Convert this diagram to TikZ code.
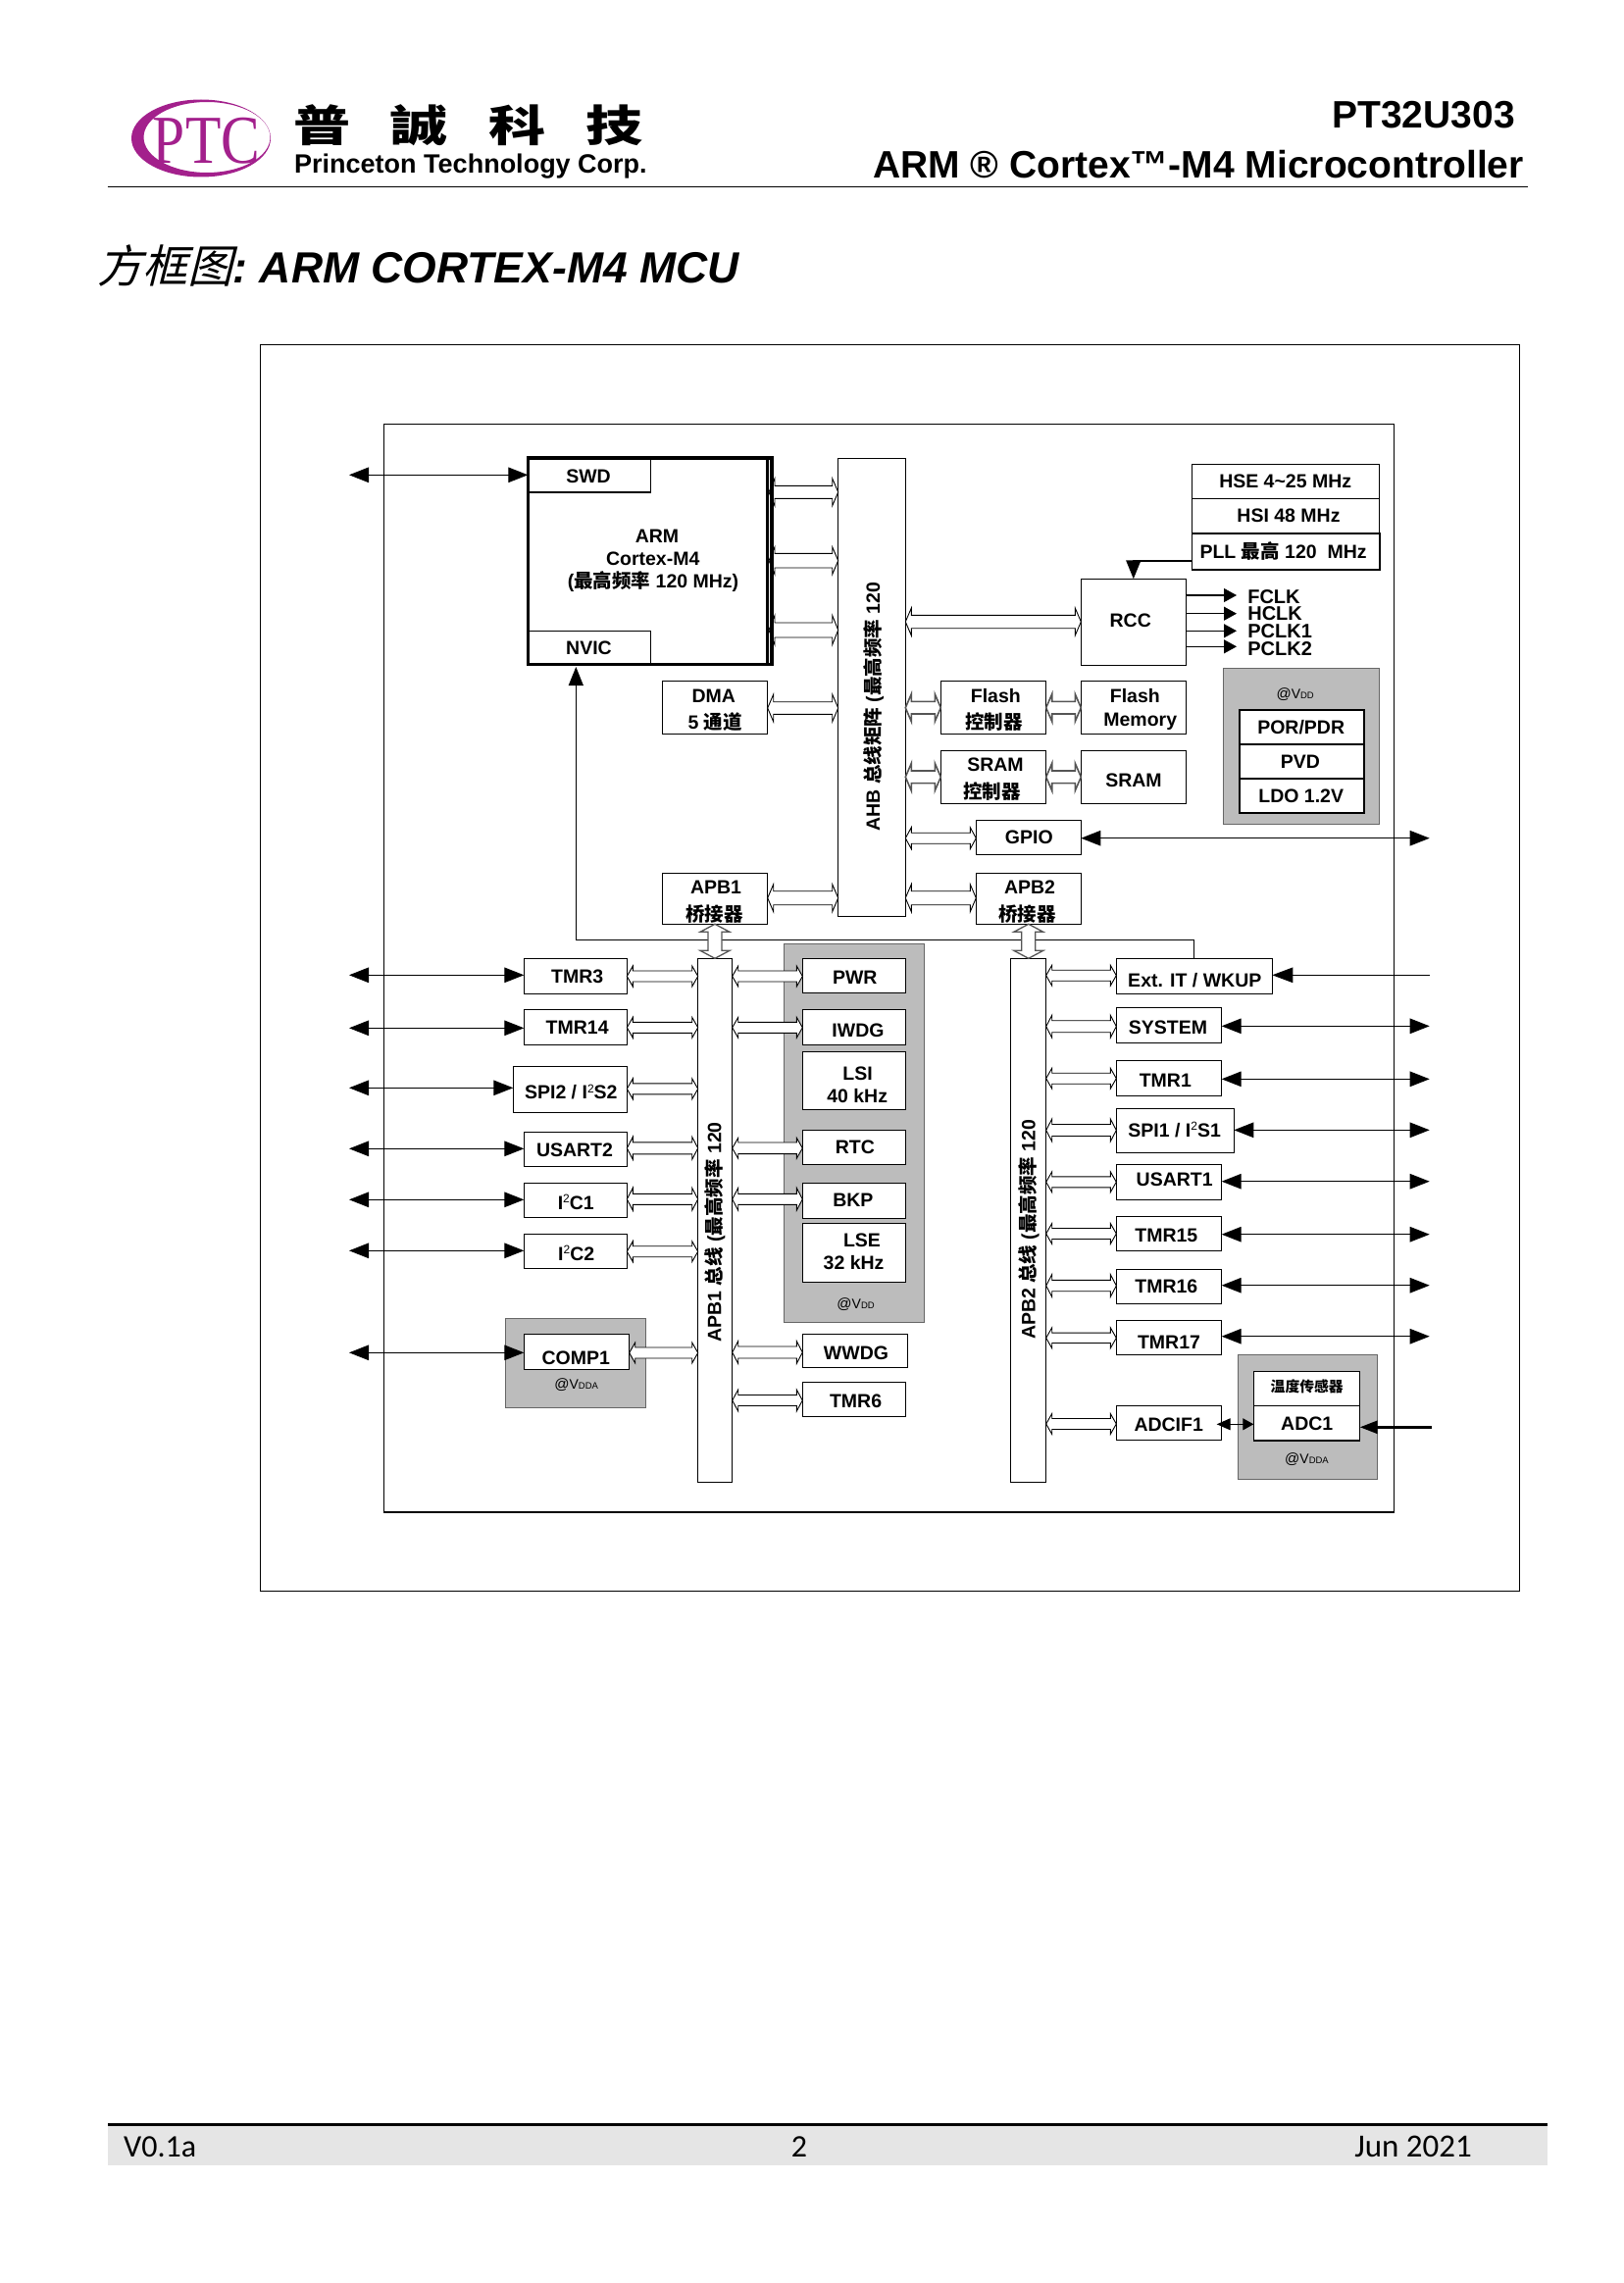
\documentclass[tikz,border=0pt]{standalone}
\usepackage{fontspec}
\setmainfont{Liberation Sans}
\newfontfamily\cjk{Noto Sans CJK SC}
\newfontfamily\cjktc{Noto Sans CJK TC}[FakeStretch=1.32]
\newfontfamily\cjkslant{Noto Sans CJK SC}[FakeSlant=0.25]
\newfontfamily\foot{Carlito}
\newfontfamily\logoserif{Liberation Serif}[FakeStretch=0.85]
\usetikzlibrary{arrows.meta,calc}
\definecolor{panel}{HTML}{BCBCBC}
\definecolor{ptc}{HTML}{A3208C}
\definecolor{footgray}{HTML}{E5E5E5}
\definecolor{darkbus}{HTML}{555555}
\newcommand\zh[1]{{\cjk\bfseries #1}}
\newcommand\supt{\raisebox{6.5pt}{\fontsize{12}{12}\selectfont\mdseries 2}}
\newcommand\vsup[1]{@{\fontsize{14}{14}\selectfont V}{\fontsize{9.5}{9.5}\selectfont #1}}
\tikzset{
  x=1pt,y=-1pt,
  box/.style={draw=black,fill=white,line width=1.1pt,inner sep=0pt,outer sep=0pt},
  panelbox/.style={draw=black!60,fill=panel,line width=1pt,inner sep=0pt,outer sep=0pt},
  frame/.style={draw=black,line width=1.1pt,inner sep=0pt,outer sep=0pt},
  tx/.style={inner sep=0pt,outer sep=0pt,font=\fontsize{19.5}{19.5}\selectfont\bfseries},
  vdd/.style={inner sep=0pt,outer sep=0pt,font=\fontsize{15}{15}\selectfont,text=black},
  clk/.style={tx,anchor=west,font=\fontsize{20}{20}\selectfont\bfseries},
  bus/.style={draw=black,fill=white,line width=.9pt,line join=miter},
  busdark/.style={draw=darkbus,fill=white,line width=1.6pt,line join=miter},
  bibus/.style={line width=1.1pt,{Triangle[length=20pt,width=15.5pt]}-{Triangle[length=20pt,width=15.5pt]}},
  inarrow/.style={line width=1.1pt,-{Triangle[length=19pt,width=15pt]}},
}
\newcommand\mybox[6][box]{%
  \pgfmathsetmacro\bw{#5-#3}\pgfmathsetmacro\bh{#6-#4}%
  \pgfmathsetmacro\bcx{(#5+#3)/2}\pgfmathsetmacro\bcy{(#6+#4)/2}%
  \node[#1,minimum width=\bw pt,minimum height=\bh pt] (#2) at (\bcx,\bcy) {};}
\newcommand\mytext[5][tx]{\node[#1] (#2) at (#3,#4) {#5};}
% horizontal hollow double arrow: style, left, right, y, shaft half, head half
\newcommand\hbus[6][bus]{%
  \path[#1] let \p1=(#2 |- 0,#4), \p2=(#3 |- 0,#4) in
  (\x1,\y1) -- (\x1+6pt,\y1+#6pt) -- (\x1+6pt,\y1+#5pt) -- (\x2-6pt,\y1+#5pt)
  -- (\x2-6pt,\y1+#6pt) -- (\x2,\y1) -- (\x2-6pt,\y1-#6pt) -- (\x2-6pt,\y1-#5pt)
  -- (\x1+6pt,\y1-#5pt) -- (\x1+6pt,\y1-#6pt) -- cycle;}
% vertical hollow double arrow: top node anchor, bottom node anchor
\newcommand\vbus[2]{%
  \path[busdark,line width=1.3pt] let \p1=(#1), \p2=(#2) in
  (\x1,\y1) -- (\x1+15pt,\y1-8pt) -- (\x1+7pt,\y1-8pt) -- (\x1+7pt,\y2+8pt)
  -- (\x1+15pt,\y2+8pt) -- (\x1,\y2) -- (\x1-15pt,\y2+8pt) -- (\x1-7pt,\y2+8pt)
  -- (\x1-7pt,\y1-8pt) -- (\x1-15pt,\y1-8pt) -- cycle;}
\newcommand\extW[2]{\coordinate (#1ext) at (356,#2);\draw[bibus] (#1ext) -- (#1.west |- #1ext);}
\newcommand\extE[2]{\coordinate (#1ext) at (1457.7,#2);\draw[bibus] (#1.east |- #1ext) -- (#1ext);}
\begin{document}
\begin{tikzpicture}
\useasboundingbox[fill=white] (0,0) rectangle (1655,2328);
% ---- header
\path[fill=ptc,even odd rule] (205,141) ellipse [x radius=71,y radius=39.5]
  (211,140) ellipse [x radius=64.5,y radius=36];
\node[inner sep=0pt,text=ptc,font=\fontsize{70}{70}\selectfont\logoserif] (logoptc) at (210.5,143.5) {PTC};
\node[inner sep=0pt,font=\fontsize{44}{44}\selectfont\cjktc\bfseries] (cname) at (477.6,128) {普\hspace{41pt}誠\hspace{41pt}科\hspace{41pt}技};
\node[inner sep=0pt,anchor=west,font=\fontsize{27}{27}\selectfont\bfseries] (ename) at (300,170) {Princeton Technology Corp.};
\node[inner sep=0pt,anchor=east,font=\fontsize{39}{39}\selectfont\bfseries] (partno) at (1545,117.5) {PT32U303};
\node[inner sep=0pt,anchor=east,font=\fontsize{39}{39}\selectfont\bfseries] (prod) at (1554,168) {ARM ® Cortex™-M4 Microcontroller};
\coordinate (hruleL) at (109.5,190.5);\coordinate (hruleR) at (1558,190.5);
\draw[line width=1.6pt] (hruleL) -- (hruleR);
\node[inner sep=0pt,anchor=west,font=\fontsize{44.5}{44.5}\selectfont] (title) at (99,271) {{\fontsize{46}{46}\selectfont\cjkslant 方框图}\textbf{\textit{:\hspace{-3.5pt} ARM CORTEX-M4 MCU}}};
% ---- footer
\path[fill=footgray] (110,2168) rectangle (1578,2208);
\coordinate (fruleL) at (110,2166.5);\coordinate (fruleR) at (1578,2166.5);
\draw[line width=3pt] (fruleL) -- (fruleR);
\node[inner sep=0pt,anchor=west,font=\fontsize{32}{32}\selectfont\foot] (fver) at (126,2189) {V0.1a};
\node[inner sep=0pt,font=\fontsize{32}{32}\selectfont\foot] (fpage) at (815,2189) {2};
\node[inner sep=0pt,anchor=east,font=\fontsize{33}{33}\selectfont\foot] (fdate) at (1501,2189) {Jun 2021};
% ---- frames
\draw[frame] (265.7,351.8) rectangle (1549.7,1622.5);
\draw[frame] (391.3,432.3) rectangle (1421.3,1542);
% ---- panels
\mybox[panelbox]{pwrpanel}{1247.3}{681.7}{1406.9}{840.7}
\mybox[panelbox]{lowpanel}{799.7}{962.3}{942.6}{1348.3}
\mybox[panelbox]{comppanel}{515.7}{1344.7}{658.3}{1435.3}
\mybox[panelbox]{adcpanel}{1262.7}{1381.3}{1404.7}{1508.4}
% ---- core
\mybox{ahb}{854.7}{467.3}{923.3}{934.3}
\coordinate (armout) at (784,500);
\hbus{armout}{ahb.west}{501.8}{6.5}{14}
\hbus{armout}{ahb.west}{571.7}{7.3}{14}
\hbus{armout}{ahb.west}{642.5}{7.5}{15}
\mybox[box,fill=none,line width=3.3pt]{arm}{538.3}{467}{787}{677.7}
\coordinate (armdivT) at (782.7,467);\coordinate (armdivB) at (782.7,677.7);
\draw[line width=2.6pt] (armdivT) -- (armdivB);
\mybox[box,fill=none,line width=1.5pt]{swd}{538.3}{467}{663.3}{502}
\mybox[box,fill=none]{nvic}{538.3}{643.3}{663.3}{677.7}
\mytext{swdt}{600}{485.7}{SWD}
\mytext{nvict}{600.5}{661}{NVIC}
\mytext{armt}{670}{546.7}{ARM}
\mytext{armtb}{665.7}{569.3}{Cortex-M4}
\mytext{armtc}{666}{593.3}{(\zh{最高频率} 120 MHz)}
\mybox{dma}{675.3}{694.3}{782.7}{748.7}
\mytext{dmat}{727.7}{709.3}{DMA}
\mytext{dmatb}{729.3}{736}{5 \zh{通道}}
\mybox{apbonebr}{675.3}{890.3}{782.7}{942.3}
\mytext{apbonebrt}{730}{905}{APB1}
\mytext{apbonebrtb}{728.3}{931.7}{\zh{桥接器}}
\hbus{dma.east}{ahb.west}{722}{6.3}{14}
\hbus{apbonebr.east}{ahb.west}{915.7}{7}{14}
\mytext[tx,rotate=90]{ahbt}{890.7}{720.5}{AHB \zh{总线矩阵} (\zh{最高频率} 120}
% clock group
\mybox{hse}{1215.3}{473.3}{1406.9}{508.3}
\mybox{hsi}{1215.3}{508.3}{1406.9}{544}
\mybox[box,line width=1.6pt]{pll}{1215.3}{544}{1406.9}{581}
\mytext{hset}{1310.7}{490.7}{HSE 4\~{}25 MHz}
\mytext{hsit}{1314}{525.7}{HSI 48 MHz}
\mytext{pllt}{1308.6}{562.3}{PLL \zh{最高} 120 \ MHz}
\mybox{rcc}{1102.3}{590.3}{1209.3}{678.3}
\mytext{rcct}{1152.7}{632.7}{RCC}
\coordinate (pllout) at (1215.3,571.7);
\draw[inarrow,line width=1.8pt] (pll.west |- pllout) -| (rcc.north);
\hbus{ahb.east}{rcc.west}{634}{6.7}{14}
\foreach \nm/\yy/\tyy/\lab in {fclk/607/609/FCLK,hclk/625.7/626/HCLK,pclka/643.3/644/PCLK1,pclkb/659.3/661.3/PCLK2}{
  \coordinate (\nm end) at (1261,\yy);
  \draw[inarrow,-{Triangle[length=13pt,width=14pt]}] (rcc.east |- \nm end) -- (\nm end);
  \node[clk] (\nm) at (1272.3,\tyy) {\lab};
}
\mybox{flashc}{959.3}{694.3}{1066.7}{748.7}
\mybox{flashm}{1102.3}{694.3}{1209.3}{748.7}
\mybox{sramc}{959.3}{765.3}{1066.7}{819.3}
\mybox{sramm}{1102.3}{765.3}{1209.3}{819.3}
\mybox{gpio}{995.3}{836.3}{1102.3}{871.3}
\mybox{apbtwobr}{995.3}{890.3}{1102.3}{942.3}
\mytext{flashct}{1015.3}{709.3}{Flash}
\mytext{flashctb}{1013.3}{736}{\zh{控制器}}
\mytext{flashmt}{1157.3}{709.3}{Flash}
\mytext{flashmtb}{1162.7}{736}{Memory}
\mytext{sramct}{1015}{780}{SRAM}
\mytext{sramctb}{1011.7}{806.7}{\zh{控制器}}
\mytext{srammt}{1156}{795.7}{SRAM}
\mytext{gpiot}{1049.3}{854}{GPIO}
\mytext{apbtwobrt}{1050}{905}{APB2}
\mytext{apbtwobrtb}{1047.7}{931.7}{\zh{桥接器}}
\hbus[busdark]{ahb.east}{flashc.west}{721.7}{6.3}{14}
\hbus[busdark]{flashc.east}{flashm.west}{721.7}{6.3}{14}
\hbus[busdark]{ahb.east}{sramc.west}{792.3}{6.3}{14}
\hbus[busdark]{sramc.east}{sramm.west}{792.3}{6.3}{14}
\hbus{ahb.east}{gpio.west}{854.7}{5.5}{11}
\hbus{ahb.east}{apbtwobr.west}{915.7}{7}{14}
\extE{gpio}{854.7}
% power stack
\mytext[vdd]{pwrvdd}{1320.7}{707.7}{\vsup{DD}}
\mybox[box,line width=1.8pt]{por}{1264}{724}{1391}{759}
\mybox[box,line width=1.8pt]{pvd}{1264}{759}{1391}{794.3}
\mybox[box,line width=1.8pt]{ldo}{1264}{794.3}{1391}{829}
\mytext{port}{1326.7}{741.3}{POR/PDR}
\mytext{pvdt}{1326}{776.7}{PVD}
\mytext{ldot}{1326.7}{811.7}{LDO 1.2V}
% ---- APB1
\mybox{apbone}{711.7}{977.3}{746.7}{1511.5}
\mybox{apbtwo}{1030.7}{977.3}{1066.7}{1511.5}
\mytext[tx,rotate=90]{apbonet}{729}{1256.3}{APB1 \zh{总线} (\zh{最高频率} 120}
\mytext[tx,rotate=90]{apbtwot}{1049.3}{1253.8}{APB2 \zh{总线} (\zh{最高频率} 120}
% interrupt line
\coordinate (nvicin) at (587.3,680);
\mybox{exti}{1138.3}{977.3}{1297.3}{1013.3}
\coordinate (irqbendR) at (1217.8,958.3);\coordinate (irqbendL) at (587.3,958.3);
\draw[inarrow] (exti.north) -- (irqbendR) -- (irqbendL) -- (nvicin);
\vbus{apbonebr.south}{apbone.north}
\vbus{apbtwobr.south}{apbtwo.north}
% left peripherals
\mybox{tmrc}{534.3}{977.3}{639.3}{1013.3}
\mybox{tmrn}{534.3}{1029.3}{639.3}{1065.3}
\mybox{spib}{523.3}{1087.3}{639.3}{1134.3}
\mybox{usartb}{534.3}{1154.3}{639.3}{1189.3}
\mybox{ica}{534.3}{1206.3}{639.3}{1241.3}
\mybox{icb}{534.3}{1258.3}{639.3}{1293.3}
\mybox{comp}{534.3}{1360.7}{641.7}{1396.3}
\mytext{tmrct}{588.7}{996}{TMR3}
\mytext{tmrnt}{588.7}{1047.3}{TMR14}
\mytext{spibt}{582.3}{1113.7}{SPI2 / I\supt S2}
\mytext{usartbt}{586}{1172.7}{USART2}
\mytext{icat}{587.3}{1226}{I\supt C1}
\mytext{icbt}{587.7}{1278}{I\supt C2}
\mytext{compt}{587.3}{1385}{COMP1}
\mytext[vdd]{compvdd}{587.7}{1412.3}{\vsup{DDA}}
\extW{swd}{484.3}
\extW{tmrc}{994.3}
\extW{tmrn}{1048.3}
\extW{spib}{1109.3}
\extW{usartb}{1171.3}
\extW{ica}{1223.3}
\extW{icb}{1275.3}
\extW{comp}{1379.3}
\hbus{tmrc.east}{apbone.west}{995.5}{5.5}{10.5}
\hbus{tmrn.east}{apbone.west}{1047.8}{5.5}{10.5}
\hbus{spib.east}{apbone.west}{1110.3}{5.5}{10.5}
\hbus{usartb.east}{apbone.west}{1170.8}{6}{11.5}
\hbus{ica.east}{apbone.west}{1222.8}{5.5}{11.5}
\hbus{icb.east}{apbone.west}{1276.2}{5.5}{10.5}
\hbus{comp.east}{apbone.west}{1379.5}{5.5}{10.5}
% centre column
\mybox{pwr}{818.3}{977.3}{923.6}{1012.3}
\mybox{iwdg}{818.3}{1029.3}{923.6}{1065.3}
\mybox{lsi}{818.3}{1072.3}{923.6}{1131.7}
\mybox{rtc}{818.3}{1152.3}{923.6}{1187.3}
\mybox{bkp}{818.3}{1206.3}{923.6}{1242.3}
\mybox{lse}{818.3}{1247.3}{923.6}{1307.3}
\mybox{wwdg}{818.3}{1360.7}{925.6}{1394.3}
\mybox{tmrs}{818.3}{1409.3}{923.6}{1444.3}
\mytext{pwrt}{871.8}{997.1}{PWR}
\mytext{iwdgt}{875}{1051}{IWDG}
\mytext{lsit}{874.6}{1095}{LSI}
\mytext{lsitb}{874.2}{1118}{40 kHz}
\mytext{rtct}{871.8}{1169.7}{RTC}
\mytext{bkpt}{869.9}{1223.3}{BKP}
\mytext{lset}{879}{1265}{LSE}
\mytext{lsetb}{870.6}{1287.2}{32 kHz}
\mytext{wwdgt}{873}{1379.8}{WWDG}
\mytext{tmrst}{872.6}{1428.8}{TMR6}
\mytext[vdd]{lowvdd}{872.6}{1330.5}{\vsup{DD}}
\hbus{apbone.east}{pwr.west}{995.5}{5.5}{10.5}
\hbus{apbone.east}{iwdg.west}{1047.8}{5.5}{10.5}
\hbus{apbone.east}{rtc.west}{1170.8}{5.8}{10.5}
\hbus{apbone.east}{bkp.west}{1222.8}{5.5}{11.5}
\hbus{apbone.east}{wwdg.west}{1379}{6}{11.5}
\hbus{apbone.east}{tmrs.west}{1428}{5.5}{11}
% right peripherals
\mybox{sys}{1138.3}{1027.3}{1245.7}{1063.3}
\mybox{tmra}{1138.3}{1081.3}{1245.7}{1117.3}
\mybox{spia}{1138.3}{1130.3}{1258.3}{1175.3}
\mybox{usarta}{1138.3}{1187.3}{1245.7}{1223.3}
\mybox{tmro}{1138.3}{1240.3}{1245.7}{1275.3}
\mybox{tmrp}{1138.3}{1294.3}{1245.7}{1329.3}
\mybox{tmrq}{1138.3}{1346.3}{1245.7}{1381.3}
\mybox{adcif}{1138.3}{1433.3}{1245.7}{1468.3}
\mybox{temp}{1278.3}{1398.3}{1386.7}{1433.3}
\mybox{adc}{1278.3}{1433.3}{1386.7}{1469}
\mytext{extit}{1218.3}{999.3}{Ext. IT / WKUP}
\mytext{syst}{1191}{1048}{SYSTEM}
\mytext{tmrat}{1188.3}{1102}{TMR1}
\mytext{spiat}{1197.7}{1152}{SPI1 / I\supt S1}
\mytext{usartat}{1197.7}{1202.7}{USART1}
\mytext{tmrot}{1189.3}{1260}{TMR15}
\mytext{tmrpt}{1189.3}{1312}{TMR16}
\mytext{tmrqt}{1192}{1369}{TMR17}
\mytext{adcift}{1191.7}{1452.7}{ADCIF1}
\mytext[tx,font=\fontsize{14.8}{14.8}\selectfont\bfseries]{tempt}{1332.7}{1414}{\zh{温度传感器}}
\mytext{adct}{1332.7}{1452}{ADC1}
\mytext[vdd]{adcvdd}{1332.5}{1488}{\vsup{DDA}}
\hbus{apbtwo.east}{exti.west}{994.7}{5.5}{10.5}
\hbus{apbtwo.east}{sys.west}{1046.7}{6}{11.5}
\hbus{apbtwo.east}{tmra.west}{1099.7}{5.5}{10.5}
\hbus{apbtwo.east}{spia.west}{1152.5}{6}{11.5}
\hbus{apbtwo.east}{usarta.west}{1205.3}{5.5}{10.5}
\hbus{apbtwo.east}{tmro.west}{1258}{5.5}{10.5}
\hbus{apbtwo.east}{tmrp.west}{1311}{5.7}{11.5}
\hbus{apbtwo.east}{tmrq.west}{1364.3}{5.2}{10.5}
\hbus{apbtwo.east}{adcif.west}{1452}{5.5}{10.5}
\coordinate (extiext) at (1457.7,994.3);
\draw[inarrow,-{Triangle[length=21pt,width=15.5pt]}] (extiext) -- (exti.east |- extiext);
\extE{sys}{1046.3}
\extE{tmra}{1100.3}
\extE{spia}{1152.3}
\extE{usarta}{1204.7}
\extE{tmro}{1258.7}
\extE{tmrp}{1310.7}
\extE{tmrq}{1362.7}
\coordinate (adclink) at (1240.7,1452.3);
\draw[line width=1pt,{Triangle[length=14pt,width=12pt]}-{Triangle[length=11pt,width=12pt]}] (adclink) -- (adc.west |- adclink);
\coordinate (adcext) at (1460,1455.3);
\draw[line width=2.8pt,-{Triangle[length=18pt,width=13pt]}] (adcext) -- (adc.east |- adcext);
\end{tikzpicture}
\end{document}
